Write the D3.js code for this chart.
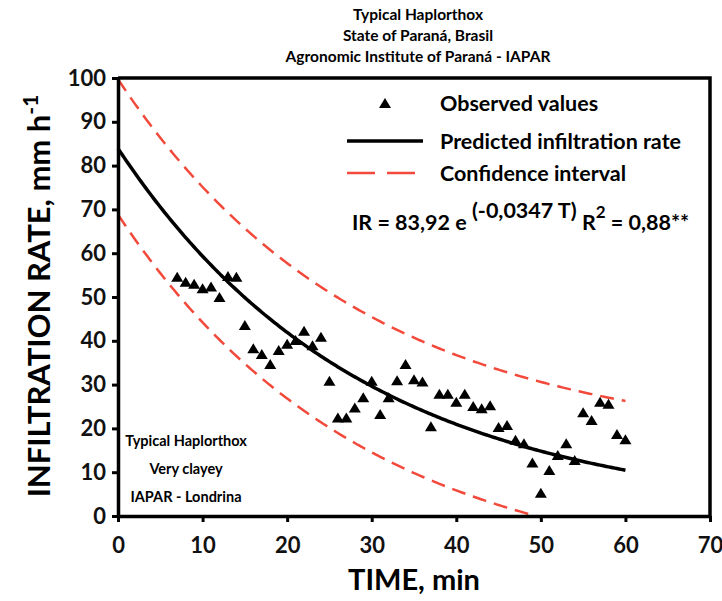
<!DOCTYPE html>
<html>
<head>
<meta charset="utf-8">
<script src="https://cdn.jsdelivr.net/npm/d3@7"></script>
<style>
  body { margin: 0; background: #fff; }
  svg { display: block; font-family: Lato, 'Open Sans', sans-serif; font-weight: bold; }
</style>
</head>
<body>
<div id="chart"></div>
<script>
// observed infiltration (minutes / mm h-1)
const times = [7, 8, 9, 10, 11, 12, 13, 14, 15, 16, 17, 18, 19, 20, 21, 22, 23, 24, 25, 26,
  27, 28, 29, 30, 31, 32, 33, 34, 35, 36, 37, 38, 39, 40, 41, 42, 43, 44, 45, 46,
  47, 48, 49, 50, 51, 52, 53, 54, 55, 56, 57, 58, 59, 60];
const observed = [54.6, 53.5, 53.0, 52.0, 52.4, 50.0, 54.8, 54.6, 43.6, 38.3, 37.0, 34.7, 37.9, 39.3, 40.2, 42.3, 39.0, 40.9, 30.9, 22.5,
  22.5, 24.8, 27.1, 30.9, 23.3, 27.1, 31.0, 34.7, 31.2, 30.7, 20.5, 27.9, 27.9, 26.1, 27.9, 25.1, 24.6, 25.3, 20.3, 20.8,
  17.4, 16.6, 12.2, 5.3, 10.5, 13.9, 16.6, 12.8, 23.7, 21.9, 26.1, 25.6, 18.7, 17.5];

// fitted model printed on the chart: IR = 83,92 e^(-0,0347 T)
const fitA = 83.92;
const fitB = 0.0347;
const ciUpper = 15.8;
const ciLower = 15.1;
const fitRange = [0, 60];

const xTicks = [0, 10, 20, 30, 40, 50, 60, 70];
const yTicks = [0, 10, 20, 30, 40, 50, 60, 70, 80, 90, 100];
const titleLines = ['Typical Haplorthox', 'State of Paraná, Brasil', 'Agronomic Institute of Paraná - IAPAR'];
const siteLines = ['Typical Haplorthox', 'Very clayey', 'IAPAR - Londrina'];
const legendItems = ['Observed values', 'Predicted infiltration rate', 'Confidence interval'];

const width = 722;
const height = 601;
const red = '#f2493b';

const svg = d3.select('#chart').append('svg')
  .attr('width', width)
  .attr('height', height);

const x = d3.scaleLinear().domain([0, 70]).range([118, 710]);
const y = d3.scaleLinear().domain([0, 100]).range([516, 78]);

// titles
svg.append('g').selectAll('text')
  .data(titleLines)
  .enter().append('text')
  .attr('x', 418)
  .attr('y', (d, i) => 20 + i * 21)
  .attr('text-anchor', 'middle')
  .style('font-size', '15.5px')
  .text(d => d);

// model curves
const model = t => fitA * Math.exp(-fitB * t);
const tGrid = d3.range(fitRange[0], fitRange[1] + 0.001, 0.25);

const line = d3.line()
  .x(d => x(d[0]))
  .y(d => y(d[1]));

svg.append('path')
  .datum(tGrid.map(t => [t, model(t) + ciUpper]))
  .attr('d', line)
  .attr('fill', 'none')
  .attr('stroke', red)
  .attr('stroke-width', 2.5)
  .attr('stroke-dasharray', '14,8');

svg.append('path')
  .datum(tGrid.map(t => [t, model(t) - ciLower]).filter(d => d[1] >= -0.3))
  .attr('d', line)
  .attr('fill', 'none')
  .attr('stroke', red)
  .attr('stroke-width', 2.5)
  .attr('stroke-dasharray', '14,8');

svg.append('path')
  .datum(tGrid.map(t => [t, model(t)]))
  .attr('d', line)
  .attr('fill', 'none')
  .attr('stroke', '#000')
  .attr('stroke-width', 3.5);

// triangle markers
const tri = (w, h) => `M0,${-h / 2}L${w / 2},${h / 2}L${-w / 2},${h / 2}Z`;

svg.append('g').selectAll('path')
  .data(times.map((t, i) => [t, observed[i]]))
  .enter().append('path')
  .attr('d', tri(12, 10))
  .attr('transform', d => `translate(${x(d[0])},${y(d[1])})`)
  .attr('fill', '#000');

// axes
const xAxis = svg.append('g')
  .attr('transform', `translate(0,${y(0)})`)
  .call(d3.axisBottom(x).tickValues(xTicks).tickSize(6).tickSizeOuter(0).tickPadding(15));

const yAxis = svg.append('g')
  .attr('transform', `translate(${x(0)},0)`)
  .call(d3.axisLeft(y).tickValues(yTicks).tickSize(6).tickSizeOuter(0).tickPadding(6));

[xAxis, yAxis].forEach(g => {
  g.select('.domain').attr('stroke-width', 3.5);
  g.selectAll('.tick line').attr('stroke-width', 3);
  g.selectAll('.tick text')
    .style('font-family', 'Lato, sans-serif')
    .style('font-weight', 'bold')
    .style('font-size', '22px')
    .attr('fill', '#111');
});

// frame top and right
svg.append('path')
  .attr('d', `M${x(0)},${y(100)}H${x(70)}V${y(0)}`)
  .attr('fill', 'none')
  .attr('stroke', '#000')
  .attr('stroke-width', 3.5);

// axis titles
svg.append('text')
  .attr('x', 414)
  .attr('y', 590)
  .attr('text-anchor', 'middle')
  .style('font-size', '29px')
  .text('TIME, min');

const yTitle = svg.append('text')
  .attr('transform', 'translate(50,296) rotate(-90)')
  .attr('text-anchor', 'middle')
  .style('font-size', '31px');
yTitle.append('tspan').text('INFILTRATION RATE, mm h');
yTitle.append('tspan').attr('dy', -12).style('font-size', '21px').text('-1');

// legend
const legend = svg.append('g');
const legendY = [103, 141, 173];

legend.append('path')
  .attr('d', tri(12, 10))
  .attr('transform', `translate(385,${legendY[0]})`);

legend.append('line')
  .attr('x1', 347).attr('x2', 423)
  .attr('y1', legendY[1]).attr('y2', legendY[1])
  .attr('stroke', '#000')
  .attr('stroke-width', 3.5);

legend.append('line')
  .attr('x1', 347).attr('x2', 423)
  .attr('y1', legendY[2]).attr('y2', legendY[2])
  .attr('stroke', red)
  .attr('stroke-width', 2.5)
  .attr('stroke-dasharray', '28,12');

legend.selectAll('text')
  .data(legendItems)
  .enter().append('text')
  .attr('x', 440)
  .attr('y', (d, i) => legendY[i])
  .attr('dy', '0.35em')
  .style('font-size', '21.5px')
  .text(d => d);

// equation
const eq = svg.append('text')
  .attr('x', 352)
  .attr('y', 230)
  .style('font-size', '21.5px');
eq.append('tspan').text('IR = 83,92 e ');
eq.append('tspan').attr('dy', -12).text('(-0,0347 T)');
eq.append('tspan').attr('dy', 12).text('  R');
eq.append('tspan').attr('dy', -12).style('font-size', '17px').text('2');
eq.append('tspan').attr('dy', 12).text(' = 0,88**');

// site annotation
svg.append('g').selectAll('text')
  .data(siteLines)
  .enter().append('text')
  .attr('x', 186)
  .attr('y', (d, i) => 446 + i * 28)
  .attr('text-anchor', 'middle')
  .style('font-size', '14.5px')
  .text(d => d);
</script>
</body>
</html>
